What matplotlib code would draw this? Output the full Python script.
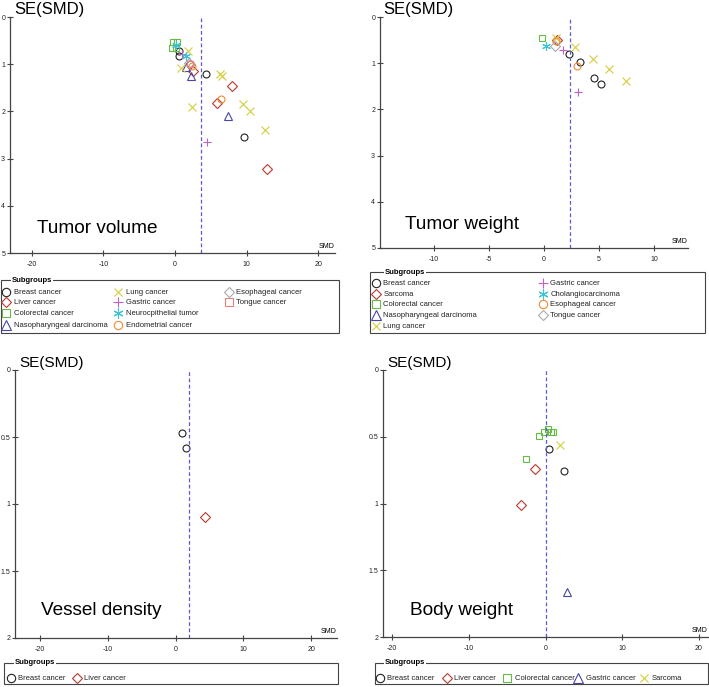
import matplotlib.pyplot as plt
from matplotlib.patches import Rectangle

plt.rcParams['font.family'] = ['Liberation Sans', 'DejaVu Sans']

W, H = 709, 687

# ---- data (SMD, SE(SMD), subgroup) ----
tv_groups = ['Breast cancer', 'Liver cancer', 'Colorectal cancer', 'Nasopharyngeal darcinoma',
             'Lung cancer', 'Gastric cancer', 'Neurocpithelial tumor', 'Endometrial cancer',
             'Esophageal cancer', 'Tongue cancer']
tv_grp = ['Breast cancer'] * 5 + ['Liver cancer'] * 4 + ['Colorectal cancer'] * 4 + \
         ['Nasopharyngeal darcinoma'] * 3 + ['Lung cancer'] * 8 + ['Gastric cancer'] * 2 + \
         ['Neurocpithelial tumor'] * 2 + ['Endometrial cancer'] * 2 + ['Esophageal cancer'] + ['Tongue cancer']
tv_smd = [0.6, 0.5, 2.1, 4.3, 9.6,
          2.55, 8.0, 5.86, 12.8,
          -0.24, 0.23, -0.46, 0.1,
          1.6, 2.2, 7.35,
          1.86, 0.84, 2.3, 6.3, 6.6, 9.5, 10.4, 12.55,
          1.0, 4.4,
          0.2, 1.5,
          2.3, 6.46,
          1.9,
          2.1]
tv_se = [0.73, 0.82, 0.99, 1.21, 2.55,
         1.14, 1.47, 1.82, 3.23,
         0.54, 0.54, 0.66, 0.66,
         1.05, 1.24, 2.1,
         0.71, 1.09, 1.9, 1.2, 1.24, 1.85, 1.99, 2.39,
         0.79, 2.65,
         0.6, 0.82,
         1.03, 1.73,
         0.97,
         1.0]

tw_groups = ['Breast cancer', 'Sarcoma', 'Colorectal cancer', 'Nasopharyngeal darcinoma',
             'Lung cancer', 'Gastric cancer', 'Cholangiocarcinoma', 'Esophageal cancer', 'Tongue cancer']
tw_grp = ['Breast cancer'] * 4 + ['Sarcoma'] + ['Colorectal cancer'] + ['Lung cancer'] * 5 + \
         ['Gastric cancer'] * 2 + ['Cholangiocarcinoma'] + ['Esophageal cancer'] * 2 + ['Tongue cancer']
tw_smd = [2.3, 3.27, 4.58, 5.15,
          1.2,
          -0.15,
          1.06, 2.8, 4.5, 5.9, 7.45,
          1.73, 3.1,
          0.15,
          1.1, 3.0,
          0.97]
tw_se = [0.8, 0.97, 1.31, 1.44,
         0.5,
         0.45,
         0.46, 0.64, 0.9, 1.13, 1.39,
         0.71, 1.62,
         0.62,
         0.52, 1.07,
         0.62]

vd_groups = ['Breast cancer', 'Liver cancer']
vd_grp = ['Breast cancer', 'Breast cancer', 'Liver cancer']
vd_smd = [0.88, 1.47, 4.37]
vd_se = [0.47, 0.585, 1.095]

bw_groups = ['Breast cancer', 'Liver cancer', 'Colorectal cancer', 'Gastric cancer', 'Sarcoma']
bw_grp = ['Breast cancer'] * 2 + ['Liver cancer'] * 2 + ['Colorectal cancer'] * 6 + \
         ['Gastric cancer'] + ['Sarcoma']
bw_smd = [0.47, 2.35, -1.4, -3.2, -0.91, -0.22, 0.34, 0.78, 0.95, -2.57, 2.87, 1.83]
bw_se = [0.595, 0.755, 0.745, 1.01, 0.495, 0.465, 0.445, 0.465, 0.465, 0.67, 1.66, 0.565]

pooled_smd = [3.6, 2.36, 2.0, 0.1]

# subgroup style cycle (same order in every panel)
markers = ['o', 'D', 's', '^', 'x', '+', (6, 2, 0), 'o', 'D', 's']
colors = ['#222222', '#b83a2c', '#66bb44', '#4646a8', '#d4cf3c',
          '#c060c8', '#3cc4d4', '#f08a30', '#aaaaaa', '#e88080']
sizes = [5.0, 4.6, 5.0, 5.8, 5.3, 6.2, 6.2, 5.0, 4.6, 5.0]


def fig_rect(l, t, r, b):
    return [l / W, 1 - b / H, (r - l) / W, (b - t) / H]


fig = plt.figure(figsize=(W / 100, H / 100), dpi=100)


def funnel(box, groups, grp, smd, se, pooled, ymax, yticks, ylabels, xlim, xticks,
           label, title_size):
    ax = fig.add_axes(fig_rect(*box))
    for i, g in enumerate(groups):
        xs = [x for x, k in zip(smd, grp) if k == g]
        ys = [y for y, k in zip(se, grp) if k == g]
        ax.plot(xs, ys, ls='none', marker=markers[i], mfc='none', mec=colors[i],
                ms=sizes[i], mew=0.8, clip_on=False)
    ax.axvline(pooled, color='#5c5cd0', lw=0.9, ls=(0, (3, 2)))
    ax.set_xlim(*xlim)
    ax.set_ylim(ymax, 0)
    ax.set_xticks(xticks)
    ax.set_xticklabels([str(t) for t in xticks])
    ax.set_yticks(yticks)
    ax.set_yticklabels(ylabels)
    for s in ['top', 'right']:
        ax.spines[s].set_visible(False)
    for s in ['left', 'bottom']:
        ax.spines[s].set_color('#444444')
        ax.spines[s].set_linewidth(0.9)
    ax.tick_params(axis='both', direction='inout', length=5, width=0.8,
                   color='#444444', labelsize=5, labelcolor='#222222')
    ax.tick_params(axis='x', pad=3)
    ax.tick_params(axis='y', pad=1)
    ax.text(0.012, 1.0, 'SE(SMD)', transform=ax.transAxes, fontsize=title_size,
            va='bottom', ha='left')
    ax.text(0.082, 0.084, label, transform=ax.transAxes, fontsize=13.7,
            va='baseline', ha='left')
    ax.text(1.0, 0.012, 'SMD', transform=ax.transAxes, fontsize=5,
            va='bottom', ha='right')
    return ax


def legend_box(box, groups, col_x, rows, nper, sub_x):
    l, t, r, b = box
    lax = fig.add_axes(fig_rect(l, t, r, b))
    lax.set_xlim(0, r - l)
    lax.set_ylim(b - t, 0)
    lax.axis('off')
    lax.add_patch(Rectangle((0, 0), r - l, b - t, fill=False, lw=0.8,
                            ec='#444444', clip_on=False))
    lax.text(sub_x, 0, 'Subgroups', fontsize=5.5, fontweight='bold', va='center',
             ha='left', bbox=dict(fc='white', ec='none', pad=0.6))
    for i, g in enumerate(groups):
        x = col_x[i // nper]
        y = rows[i % nper]
        lax.plot([x], [y], ls='none', marker=markers[i], mfc='none', mec=colors[i],
                 ms=sizes[i] + 1.0, mew=0.8, clip_on=False)
        lax.text(x + 7.5, y + 0.5, g, fontsize=5.5, va='center', ha='left', color='#222222')


funnel((10, 17, 335, 253), tv_groups, tv_grp, tv_smd, tv_se, pooled_smd[0], 5,
       [0, 1, 2, 3, 4, 5], ['0', '1', '2', '3', '4', '5'], (-23.0, 22.3),
       [-20, -10, 0, 10, 20], 'Tumor volume', 12)
funnel((380, 17, 688, 248), tw_groups, tw_grp, tw_smd, tw_se, pooled_smd[1], 5,
       [0, 1, 2, 3, 4, 5], ['0', '1', '2', '3', '4', '5'], (-14.9, 13.1),
       [-10, -5, 0, 5, 10], 'Tumor weight', 12)
funnel((15, 370, 337, 638), vd_groups, vd_grp, vd_smd, vd_se, pooled_smd[2], 2,
       [0, 0.5, 1, 1.5, 2], ['0', '0.5', '1', '1.5', '2'], (-23.7, 23.8),
       [-20, -10, 0, 10, 20], 'Vessel density', 11)
funnel((383, 370, 708, 637), bw_groups, bw_grp, bw_smd, bw_se, pooled_smd[3], 2,
       [0, 0.5, 1, 1.5, 2], ['0', '0.5', '1', '1.5', '2'], (-21.2, 21.2),
       [-20, -10, 0, 10, 20], 'Body weight', 11)

legend_box((1, 280, 339, 333), tv_groups, [5, 117, 228], [11.7, 22.3, 33.3, 45], 4, 11)
legend_box((370, 272, 705, 333), tw_groups, [5.7, 172.7], [10.6, 21.6, 32.3, 43.3, 54.3], 5, 15)
legend_box((4, 663, 338, 684), vd_groups, [7, 72.7], [14.7], 1, 11)
legend_box((375, 663, 708, 684), bw_groups, [5, 71.7, 132.3, 203.3, 269.3], [14.7], 1, 10)

fig.savefig('out.png', dpi=100)
